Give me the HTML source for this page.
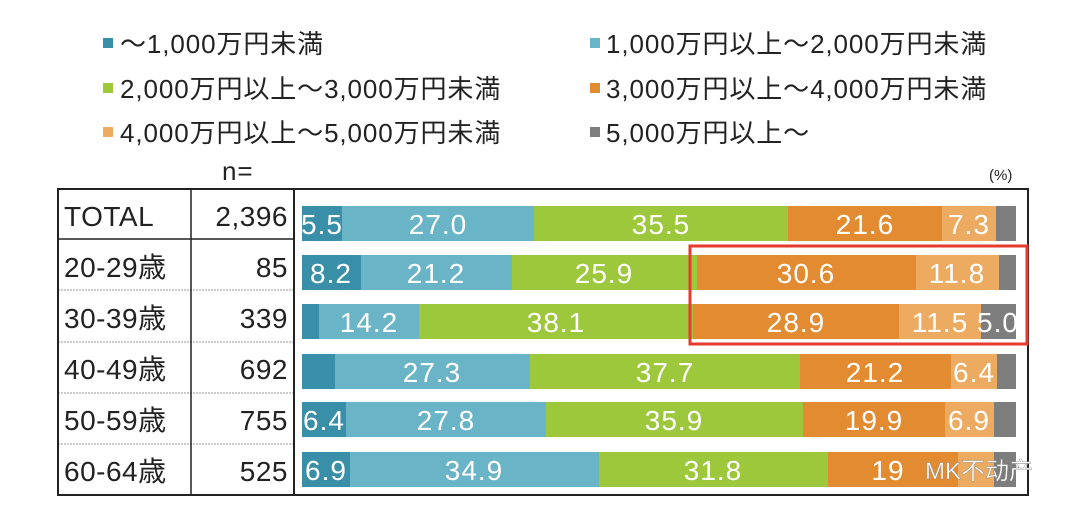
<!DOCTYPE html>
<html><head><meta charset="utf-8"><style>
html,body{margin:0;padding:0;background:#fff;}
svg{display:block;font-family:"Liberation Sans","Noto Sans CJK JP",sans-serif;}
</style></head><body>
<svg width="1080" height="517" viewBox="0 0 1080 517" xmlns="http://www.w3.org/2000/svg">
<g font-size="26" fill="#222" letter-spacing="0.9">
<rect x="103" y="38" width="10" height="10" fill="#3a8fa8"/><text x="120" y="53">～1,000万円未満</text>
<rect x="590" y="38" width="10" height="10" fill="#6ab4c8"/><text x="606" y="53">1,000万円以上～2,000万円未満</text>
<rect x="103" y="83" width="10" height="10" fill="#9dc83c"/><text x="120" y="98">2,000万円以上～3,000万円未満</text>
<rect x="590" y="83" width="10" height="10" fill="#e38b30"/><text x="606" y="98">3,000万円以上～4,000万円未満</text>
<rect x="103" y="127" width="10" height="10" fill="#ecab60"/><text x="120" y="142">4,000万円以上～5,000万円未満</text>
<rect x="590" y="127" width="10" height="10" fill="#7d7d7d"/><text x="606" y="142">5,000万円以上～</text>
<text x="222" y="180">n=</text>
</g>
<text x="989" y="180" font-size="15" fill="#222">(%)</text>
<g stroke="#999" stroke-width="1" stroke-dasharray="2,1">
<line x1="58" y1="290" x2="294" y2="290"/><line x1="58" y1="342" x2="294" y2="342"/>
<line x1="58" y1="393" x2="294" y2="393"/><line x1="58" y1="444" x2="294" y2="444"/>
</g>
<line x1="58" y1="239" x2="294" y2="239" stroke="#222" stroke-width="1.5"/>
<rect x="58" y="189" width="970" height="306" fill="none" stroke="#222" stroke-width="2"/>
<line x1="191" y1="189" x2="191" y2="495" stroke="#222" stroke-width="1.5"/>
<line x1="294" y1="189" x2="294" y2="495" stroke="#222" stroke-width="2"/>
<g font-size="28" fill="#222" letter-spacing="0.5">
<text x="64" y="226">TOTAL</text><text x="288" y="226" text-anchor="end">2,396</text>
<text x="64" y="277">20-29歳</text><text x="288" y="277" text-anchor="end">85</text>
<text x="64" y="328">30-39歳</text><text x="288" y="328" text-anchor="end">339</text>
<text x="64" y="379">40-49歳</text><text x="288" y="379" text-anchor="end">692</text>
<text x="64" y="430">50-59歳</text><text x="288" y="430" text-anchor="end">755</text>
<text x="64" y="481">60-64歳</text><text x="288" y="481" text-anchor="end">525</text>
</g>
<g>
<rect x="302" y="206" width="40" height="35" fill="#3a8fa8"/><rect x="342" y="206" width="192" height="35" fill="#6ab4c8"/><rect x="534" y="206" width="254" height="35" fill="#9dc83c"/><rect x="788" y="206" width="154" height="35" fill="#e38b30"/><rect x="942" y="206" width="54" height="35" fill="#ecab60"/><rect x="996" y="206" width="20" height="35" fill="#7d7d7d"/>
<rect x="302" y="255" width="59" height="35" fill="#3a8fa8"/><rect x="361" y="255" width="151" height="35" fill="#6ab4c8"/><rect x="512" y="255" width="185" height="35" fill="#9dc83c"/><rect x="697" y="255" width="219" height="35" fill="#e38b30"/><rect x="916" y="255" width="83" height="35" fill="#ecab60"/><rect x="999" y="255" width="17" height="35" fill="#7d7d7d"/>
<rect x="302" y="304" width="17" height="35" fill="#3a8fa8"/><rect x="319" y="304" width="100" height="35" fill="#6ab4c8"/><rect x="419" y="304" width="274" height="35" fill="#9dc83c"/><rect x="693" y="304" width="206" height="35" fill="#e38b30"/><rect x="899" y="304" width="82" height="35" fill="#ecab60"/><rect x="981" y="304" width="35" height="35" fill="#7d7d7d"/>
<rect x="302" y="354" width="33" height="35" fill="#3a8fa8"/><rect x="335" y="354" width="195" height="35" fill="#6ab4c8"/><rect x="530" y="354" width="270" height="35" fill="#9dc83c"/><rect x="800" y="354" width="151" height="35" fill="#e38b30"/><rect x="951" y="354" width="46" height="35" fill="#ecab60"/><rect x="997" y="354" width="19" height="35" fill="#7d7d7d"/>
<rect x="302" y="402" width="44" height="35" fill="#3a8fa8"/><rect x="346" y="402" width="200" height="35" fill="#6ab4c8"/><rect x="546" y="402" width="257" height="35" fill="#9dc83c"/><rect x="803" y="402" width="142" height="35" fill="#e38b30"/><rect x="945" y="402" width="49" height="35" fill="#ecab60"/><rect x="994" y="402" width="22" height="35" fill="#7d7d7d"/>
<rect x="302" y="452" width="48" height="35" fill="#3a8fa8"/><rect x="350" y="452" width="249" height="35" fill="#6ab4c8"/><rect x="599" y="452" width="229" height="35" fill="#9dc83c"/><rect x="828" y="452" width="130" height="35" fill="#e38b30"/><rect x="958" y="452" width="36" height="35" fill="#ecab60"/><rect x="994" y="452" width="22" height="35" fill="#7d7d7d"/>
</g>
<g font-size="28" fill="#fff" text-anchor="middle" letter-spacing="1">
<text x="322" y="234">5.5</text><text x="438" y="234">27.0</text><text x="661" y="234">35.5</text><text x="865" y="234">21.6</text><text x="969" y="234">7.3</text>
<text x="331" y="283">8.2</text><text x="436" y="283">21.2</text><text x="604" y="283">25.9</text><text x="806" y="283">30.6</text><text x="957" y="283">11.8</text>
<text x="369" y="332">14.2</text><text x="556" y="332">38.1</text><text x="796" y="332">28.9</text><text x="940" y="332">11.5</text><text x="998" y="332">5.0</text>
<text x="432" y="382">27.3</text><text x="665" y="382">37.7</text><text x="875" y="382">21.2</text><text x="974" y="382">6.4</text>
<text x="324" y="430">6.4</text><text x="446" y="430">27.8</text><text x="674" y="430">35.9</text><text x="874" y="430">19.9</text><text x="969" y="430">6.9</text>
<text x="326" y="480">6.9</text><text x="474" y="480">34.9</text><text x="713" y="480">31.8</text><text x="888" y="480">19</text>
</g>
<text x="925" y="479" font-size="24" fill="#fff" stroke="#888" stroke-width="0.4">MK不动产</text>
<rect x="690" y="246" width="337" height="98" fill="none" stroke="#e53a2c" stroke-width="3"/>
</svg>
</body></html>
